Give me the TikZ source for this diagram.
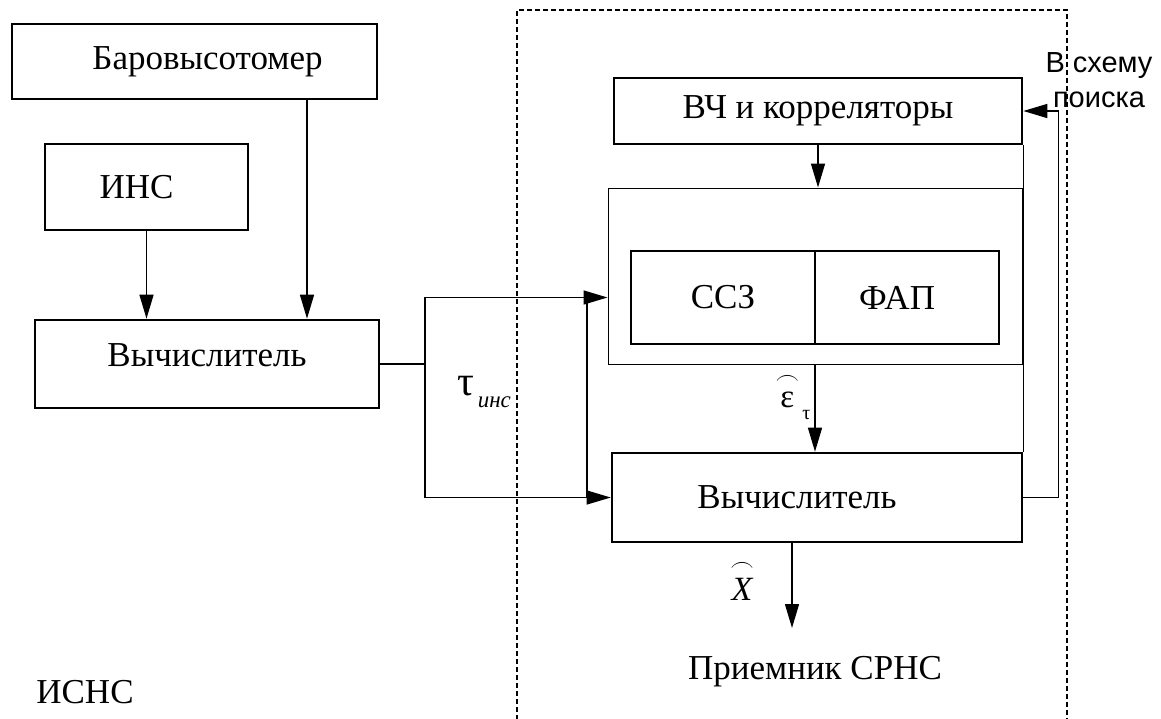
\documentclass[tikz,border=0pt]{standalone}
\usepackage{fontspec}
\usepackage{amsmath}
\setmainfont{Liberation Serif}
\newfontfamily\labelsans{Liberation Sans}
\usetikzlibrary{arrows.meta}

\begin{document}
\begin{tikzpicture}[x=0.5pt,y=-0.5pt,
	block/.style={ draw, line width=1.3pt, inner sep=0pt, font=\fontsize{17.5}{20}\selectfont },
	frame/.style={ draw, line width=0.5pt, inner sep=0pt },
	wire/.style={ line width=0.7pt },
	arr/.style={ line width=0.7pt, -{Triangle[length=12pt,width=7pt]} },
	txt/.style={ font=\fontsize{17.5}{20}\selectfont, inner sep=0pt }
]
\useasboundingbox (0,0) rectangle (1161,718);

% receiver border
\draw[line width=0.6pt, dash pattern=on 2.5pt off 1.5pt] (517,720) -- (517,10) -- (1067,10) -- (1067,720);

% left part
\node at (194.5,61.5) (baro) [block, minimum width=182.5pt, minimum height=37.5pt] {\hspace*{13pt}Баровысотомер};
\node at (146.5,187) (ins) [block, minimum width=101.5pt, minimum height=43pt] {ИНС\hspace*{10pt}};
\node at (207,364) (calcL) [block, minimum width=172pt, minimum height=44pt] {\raisebox{9pt}{Вычислитель}};

\coordinate (bx) at (307,0);
\draw[arr] (ins.south) -- (ins.south |- calcL.north);
\draw[arr] (baro.south -| bx) -- (calcL.north -| bx);

% right part
\node at (818,111) (vch) [block, minimum width=204pt, minimum height=33pt] {ВЧ и корреляторы};
\node at (815,276) (loop) [frame, minimum width=207pt, minimum height=88pt] {};
\node at (723,297.5) (ssz) [block, minimum width=92pt, minimum height=46.5pt] {ССЗ};
\node at (907,297.5) (fap) [block, minimum width=92pt, minimum height=46.5pt] {ФАП\hspace*{10pt}};
\node at (817,497.5) (calcR) [block, minimum width=205pt, minimum height=44.5pt] {Вычислитель\hspace*{20pt}};

\draw[wire] (vch.south east) -- (calcR.north east);
\draw[arr] (vch.south) -- (vch.south |- loop.north);
\draw[arr] (loop.south) -- (loop.south |- calcR.north);
\draw[arr] (calcR.east) -- ++(35,0) |- (vch.east);

\coordinate (out) at (792,628);
\draw[arr] (calcR.south -| out) -- (out);

% links between the two parts
\coordinate (split) at (425,364);
\coordinate (tx) at (587,0);
\draw[wire] (calcL.east) -- (split);
\draw[arr] (split) |- (ssz.west -| loop.west);
\draw[arr] (split) |- (calcR.west);
\draw[wire] (tx |- ssz.west) -- (tx |- calcR.west);

% labels
\node at (484,392) (tau) [inner sep=0pt] {\fontsize{21}{21}\selectfont τ\raisebox{-0.6ex}{\fontsize{11.5}{11.5}\selectfont\itshape\,инс}};
\node at (793,396) (eps) [inner sep=0pt] {\fontsize{16.5}{16.5}\selectfont $\overset{\frown}{\mbox{ε}}$\raisebox{-0.8ex}{\fontsize{10}{10}\selectfont\,τ}};
\node at (742,580) (xhat) [inner sep=0pt] {\fontsize{17}{17}\selectfont $\overset{\frown}{\mbox{\itshape X}}$};
\node at (815,672) (rx) [txt] {Приемник СРНС};
\node at (85,692) (isns) [txt] {ИСНС};
\node at (1099,80) (search) [inner sep=0pt, align=center, font=\labelsans\fontsize{14.5}{17.5}\selectfont] {В схему\\поиска};

\end{tikzpicture}
\end{document}
